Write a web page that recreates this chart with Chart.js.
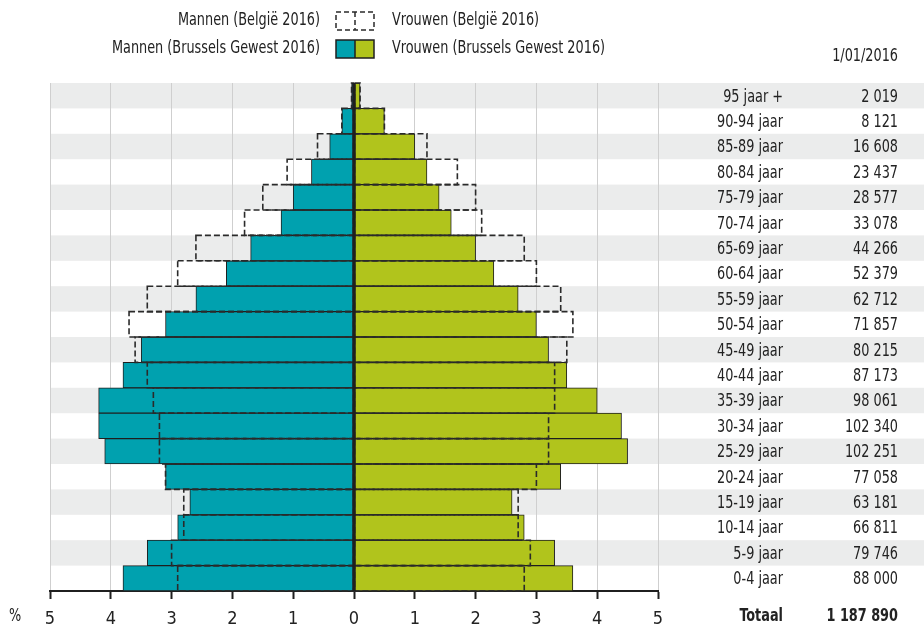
<!DOCTYPE html>
<html>
<head>
<meta charset="utf-8">
<script src="https://cdn.jsdelivr.net/npm/chart.js@4.4.0/dist/chart.umd.min.js"></script>
<style>
    body { margin: 0; background: #fff; }
    #wrap { width: 924px; height: 625px; }
</style>
</head>
<body>
<div id="wrap"><canvas id="pyramid" width="924" height="625"></canvas></div>
<script>
// leeftijdsgroepen, van boven naar onder
const ageGroups = ['95 jaar +', '90-94 jaar', '85-89 jaar', '80-84 jaar', '75-79 jaar', '70-74 jaar',
    '65-69 jaar', '60-64 jaar', '55-59 jaar', '50-54 jaar', '45-49 jaar', '40-44 jaar', '35-39 jaar',
    '30-34 jaar', '25-29 jaar', '20-24 jaar', '15-19 jaar', '10-14 jaar', '5-9 jaar', '0-4 jaar'];

const totals = [2019, 8121, 16608, 23437, 28577, 33078, 44266, 52379, 62712, 71857,
    80215, 87173, 98061, 102340, 102251, 77058, 63181, 66811, 79746, 88000];

// aandeel in % (Brussels Gewest)
const menBrussels = [0.04, 0.2, 0.4, 0.7, 1.0, 1.2, 1.7, 2.1, 2.6, 3.1, 3.5, 3.8, 4.2, 4.2, 4.1, 3.1, 2.7, 2.9, 3.4, 3.8];
const womenBrussels = [0.1, 0.5, 1.0, 1.2, 1.4, 1.6, 2.0, 2.3, 2.7, 3.0, 3.2, 3.5, 4.0, 4.4, 4.5, 3.4, 2.6, 2.8, 3.3, 3.6];

// aandeel in % (België)
const menBelgium = [0.04, 0.2, 0.6, 1.1, 1.5, 1.8, 2.6, 2.9, 3.4, 3.7, 3.6, 3.4, 3.3, 3.2, 3.2, 3.1, 2.8, 2.8, 3.0, 2.9];
const womenBelgium = [0.1, 0.5, 1.2, 1.7, 2.0, 2.1, 2.8, 3.0, 3.4, 3.6, 3.5, 3.3, 3.3, 3.2, 3.2, 3.0, 2.7, 2.7, 2.9, 2.8];

const xTicks = [-5, -4, -3, -2, -1, 0, 1, 2, 3, 4, 5];

const TEAL = '#00a1af';
const GREEN = '#b1c41c';
const DARK = '#1f1f1f';
const BAND = '#ebecec';
const FONT = "'DejaVu Sans Condensed', 'Liberation Sans', sans-serif";
const SQUEEZE = 0.84; // smallere letters, zoals in het origineel

function fmt(n) {
    return String(n).replace(/\B(?=(\d{3})+(?!\d))/g, ' ');
}

// tekst horizontaal iets samengedrukt tekenen
function text(ctx, str, x, y) {
    ctx.save();
    ctx.translate(x, y);
    ctx.scale(SQUEEZE, 1);
    ctx.fillText(str, 0, 0);
    ctx.restore();
}

// grijze banden achter de rijen
const bandsPlugin = {
    id: 'bands',
    beforeDraw(chart) {
        const ctx = chart.ctx;
        const y = chart.scales.y;
        const area = chart.chartArea;
        const h = (area.bottom - area.top) / ageGroups.length;
        ctx.save();
        ctx.fillStyle = BAND;
        ageGroups.forEach((g, i) => {
            if (i % 2 === 0) {
                const cy = y.getPixelForValue(i);
                ctx.fillRect(area.left, cy - h / 2, chart.width - area.left, h);
            }
        });
        ctx.restore();
    }
};

// stippellijnen voor België + nullijn
const overlayPlugin = {
    id: 'overlay',
    afterDatasetsDraw(chart) {
        const ctx = chart.ctx;
        ctx.save();
        ctx.strokeStyle = '#2a2a2a';
        ctx.lineWidth = 1.6;
        ctx.setLineDash([6, 3]);
        chart.data.datasets.forEach((ds, di) => {
            if (!ds.dashed) return;
            chart.getDatasetMeta(di).data.forEach(bar => {
                const p = bar.getProps(['x', 'y', 'base', 'height'], true);
                const left = Math.min(p.x, p.base);
                const w = Math.abs(p.x - p.base);
                ctx.strokeRect(left, p.y - p.height / 2, w, p.height);
            });
        });
        ctx.setLineDash([]);
        const x0 = chart.scales.x.getPixelForValue(0);
        ctx.strokeStyle = DARK;
        ctx.lineWidth = 3.5;
        ctx.beginPath();
        ctx.moveTo(x0, chart.chartArea.top);
        ctx.lineTo(x0, chart.chartArea.bottom);
        ctx.stroke();
        ctx.restore();
    }
};

// legenda en tabel rechts
const textPlugin = {
    id: 'texts',
    afterDraw(chart) {
        const ctx = chart.ctx;
        const y = chart.scales.y;
        ctx.save();
        ctx.fillStyle = '#222';
        ctx.font = '17px ' + FONT;
        ctx.textBaseline = 'middle';

        ctx.textAlign = 'right';
        ageGroups.forEach((g, i) => {
            const cy = y.getPixelForValue(i) + 1.5;
            text(ctx, g, 783, cy);
            text(ctx, fmt(totals[i]), 898, cy);
        });
        text(ctx, '1/01/2016', 898, 57);

        const ds = chart.data.datasets;
        text(ctx, ds[2].label, 320, 21);
        text(ctx, ds[0].label, 320, 49);
        ctx.textAlign = 'left';
        text(ctx, ds[3].label, 392, 21);
        text(ctx, ds[1].label, 392, 49);
        text(ctx, '%', 9, 617);

        ctx.textAlign = 'right';
        ctx.font = 'bold 17px ' + FONT;
        text(ctx, 'Totaal', 783, 617);
        text(ctx, fmt(totals.reduce((a, b) => a + b, 0)), 898, 617);

        // legendesymbolen
        ctx.fillStyle = TEAL;
        ctx.fillRect(336, 40, 19, 18);
        ctx.fillStyle = GREEN;
        ctx.fillRect(355, 40, 19, 18);
        ctx.strokeStyle = DARK;
        ctx.lineWidth = 1.5;
        ctx.strokeRect(336, 40, 38, 18);
        ctx.beginPath();
        ctx.moveTo(355, 40);
        ctx.lineTo(355, 58);
        ctx.stroke();

        ctx.setLineDash([5, 3]);
        ctx.strokeStyle = '#2a2a2a';
        ctx.strokeRect(336, 12, 38, 18);
        ctx.beginPath();
        ctx.moveTo(355, 12);
        ctx.lineTo(355, 30);
        ctx.stroke();
        ctx.restore();
    }
};

const barStyle = {
    grouped: false,
    barPercentage: 1,
    categoryPercentage: 1,
    borderColor: DARK,
    borderWidth: 1
};

new Chart(document.getElementById('pyramid'), {
    type: 'bar',
    data: {
        labels: ageGroups,
        datasets: [
            Object.assign({ label: 'Mannen (Brussels Gewest 2016)', data: menBrussels.map(v => -v), backgroundColor: TEAL }, barStyle),
            Object.assign({ label: 'Vrouwen (Brussels Gewest 2016)', data: womenBrussels, backgroundColor: GREEN }, barStyle),
            Object.assign({}, barStyle, { label: 'Mannen (België 2016)', data: menBelgium.map(v => -v), backgroundColor: 'rgba(0,0,0,0)', borderWidth: 0, dashed: true }),
            Object.assign({}, barStyle, { label: 'Vrouwen (België 2016)', data: womenBelgium, backgroundColor: 'rgba(0,0,0,0)', borderWidth: 0, dashed: true })
        ]
    },
    options: {
        indexAxis: 'y',
        responsive: false,
        animation: false,
        layout: {
            padding: { left: 50, right: 266, top: 83, bottom: 0 }
        },
        plugins: {
            legend: { display: false },
            tooltip: { enabled: false }
        },
        scales: {
            y: {
                display: false
            },
            x: {
                min: xTicks[0],
                max: xTicks[xTicks.length - 1],
                afterBuildTicks: scale => { scale.ticks = xTicks.map(v => ({ value: v })); },
                afterFit: scale => { scale.height = 34; },
                ticks: {
                    callback: v => Math.abs(v),
                    color: '#222',
                    padding: 10,
                    font: { family: FONT, size: 18 }
                },
                grid: {
                    color: '#cfcfcf',
                    lineWidth: 1,
                    tickLength: 8,
                    tickColor: DARK,
                    tickWidth: 2
                },
                border: { color: DARK, width: 2 }
            }
        }
    },
    plugins: [bandsPlugin, overlayPlugin, textPlugin]
});
</script>
</body>
</html>
